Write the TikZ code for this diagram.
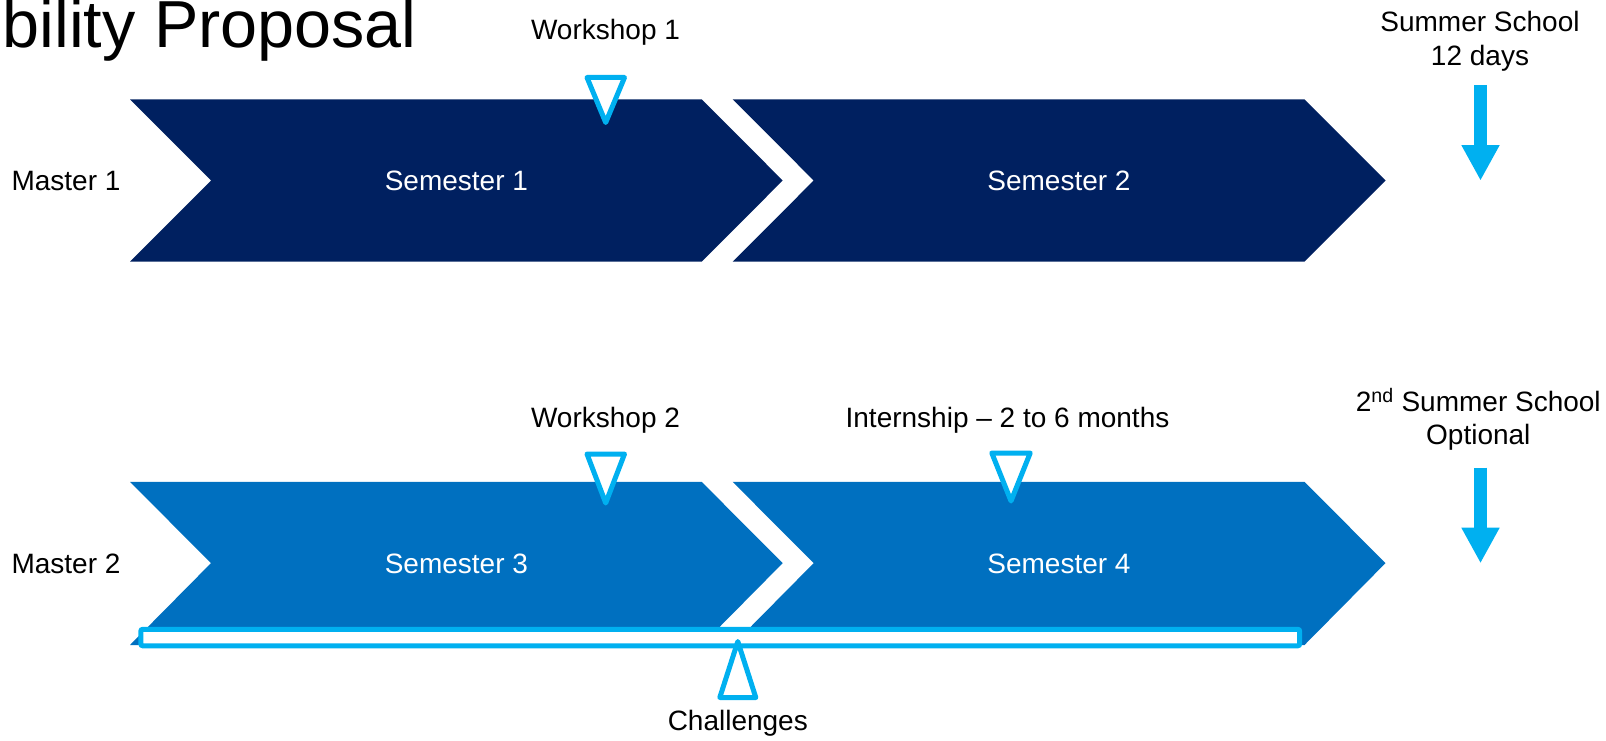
\documentclass[tikz,border=0pt]{standalone}
\usepackage{fontspec}
\setmainfont{Liberation Sans}
\usetikzlibrary{arrows.meta}
\definecolor{navy}{HTML}{002060}
\definecolor{midblue}{HTML}{0070C0}
\definecolor{cyanb}{HTML}{00B0F0}
\tikzset{
  lbl/.style={inner sep=0pt, anchor=base, font=\fontsize{28}{34}\selectfont},
  semlbl/.style={lbl, text=white},
  marker/.style={draw=cyanb, line width=5pt, fill=white, line join=round},
  downarrow/.style={draw=cyanb, line width=12.4pt, -{Triangle[width=35.6pt,length=35.6pt]}},
}
\begin{document}
\begin{tikzpicture}[x=1pt,y=-1pt]
\useasboundingbox (0,0) rectangle (1606,741);
% title
\node[inner sep=0pt, anchor=base west, font=\fontsize{66.5}{78}\selectfont] (title) at (2.5,47.5) {bility Proposal};
% top row chevrons
\fill[navy] (130,99.3) -- (701.7,99.3) -- (782.7,180.5) -- (701.7,261.7) -- (130,261.7) -- (211,180.5) -- cycle;
\fill[navy] (732.7,99.3) -- (1304.5,99.3) -- (1385.5,180.5) -- (1304.5,261.7) -- (732.7,261.7) -- (813.7,180.5) -- cycle;
% bottom row chevrons
\begin{scope}[shift={(0,382.6)}]
\fill[midblue] (130,99.3) -- (701.7,99.3) -- (782.7,180.5) -- (701.7,262.4) -- (130,262.4) -- (211,180.5) -- cycle;
\fill[midblue] (732.7,99.3) -- (1304.5,99.3) -- (1385.5,180.5) -- (1304.5,262.4) -- (732.7,262.4) -- (813.7,180.5) -- cycle;
\end{scope}
% challenges bar
\draw[draw=cyanb, line width=5pt, fill=white, rounded corners=2pt] (140.8,629.3) rectangle (1299.7,645.8);
% markers
\draw[marker] (587,77.5) -- (624.5,77.5) -- (605.7,122.5) -- cycle;
\draw[marker] (587,454) -- (624.5,454) -- (605.7,503) -- cycle;
\draw[marker] (991.8,453) -- (1030.2,453) -- (1011,501) -- cycle;
\draw[marker] (737.8,641.5) -- (755.8,697.5) -- (719.8,697.5) -- cycle;
% labels
\node[lbl] (m1) at (66,190.7) {Master 1};
\node[lbl] (m2) at (66,573.3) {Master 2};
\node[semlbl] (s1) at (456.4,190.7) {Semester 1};
\node[semlbl] (s2) at (1059,190.7) {Semester 2};
\node[semlbl] (s3) at (456.4,573.3) {Semester 3};
\node[semlbl] (s4) at (1059,573.3) {Semester 4};
\node[lbl] (w1) at (605.5,39.3) {Workshop 1};
\node[lbl] (w2) at (605.5,427.3) {Workshop 2};
\node[lbl] (intern) at (1007.5,427.3) {Internship – 2 to 6 months};
\node[lbl] (ch) at (737.8,730.7) {Challenges};
\node[lbl] (ss1) at (1480,31.7) {Summer School};
\node[lbl] (ss1b) at (1480,65.7) {12 days};
\node[lbl] (ss2) at (1478.3,411.7) {2\textsuperscript{nd} Summer School};
\node[lbl] (ss2b) at (1478.3,444.3) {Optional};
% arrows
\coordinate (a1s) at (1480.5,85);
\coordinate (a1e) at (1480.5,180.7);
\coordinate (a2s) at (1480.5,467.7);
\coordinate (a2e) at (1480.5,563.3);
\draw[downarrow] (a1s) -- (a1e);
\draw[downarrow] (a2s) -- (a2e);
\end{tikzpicture}
\end{document}
